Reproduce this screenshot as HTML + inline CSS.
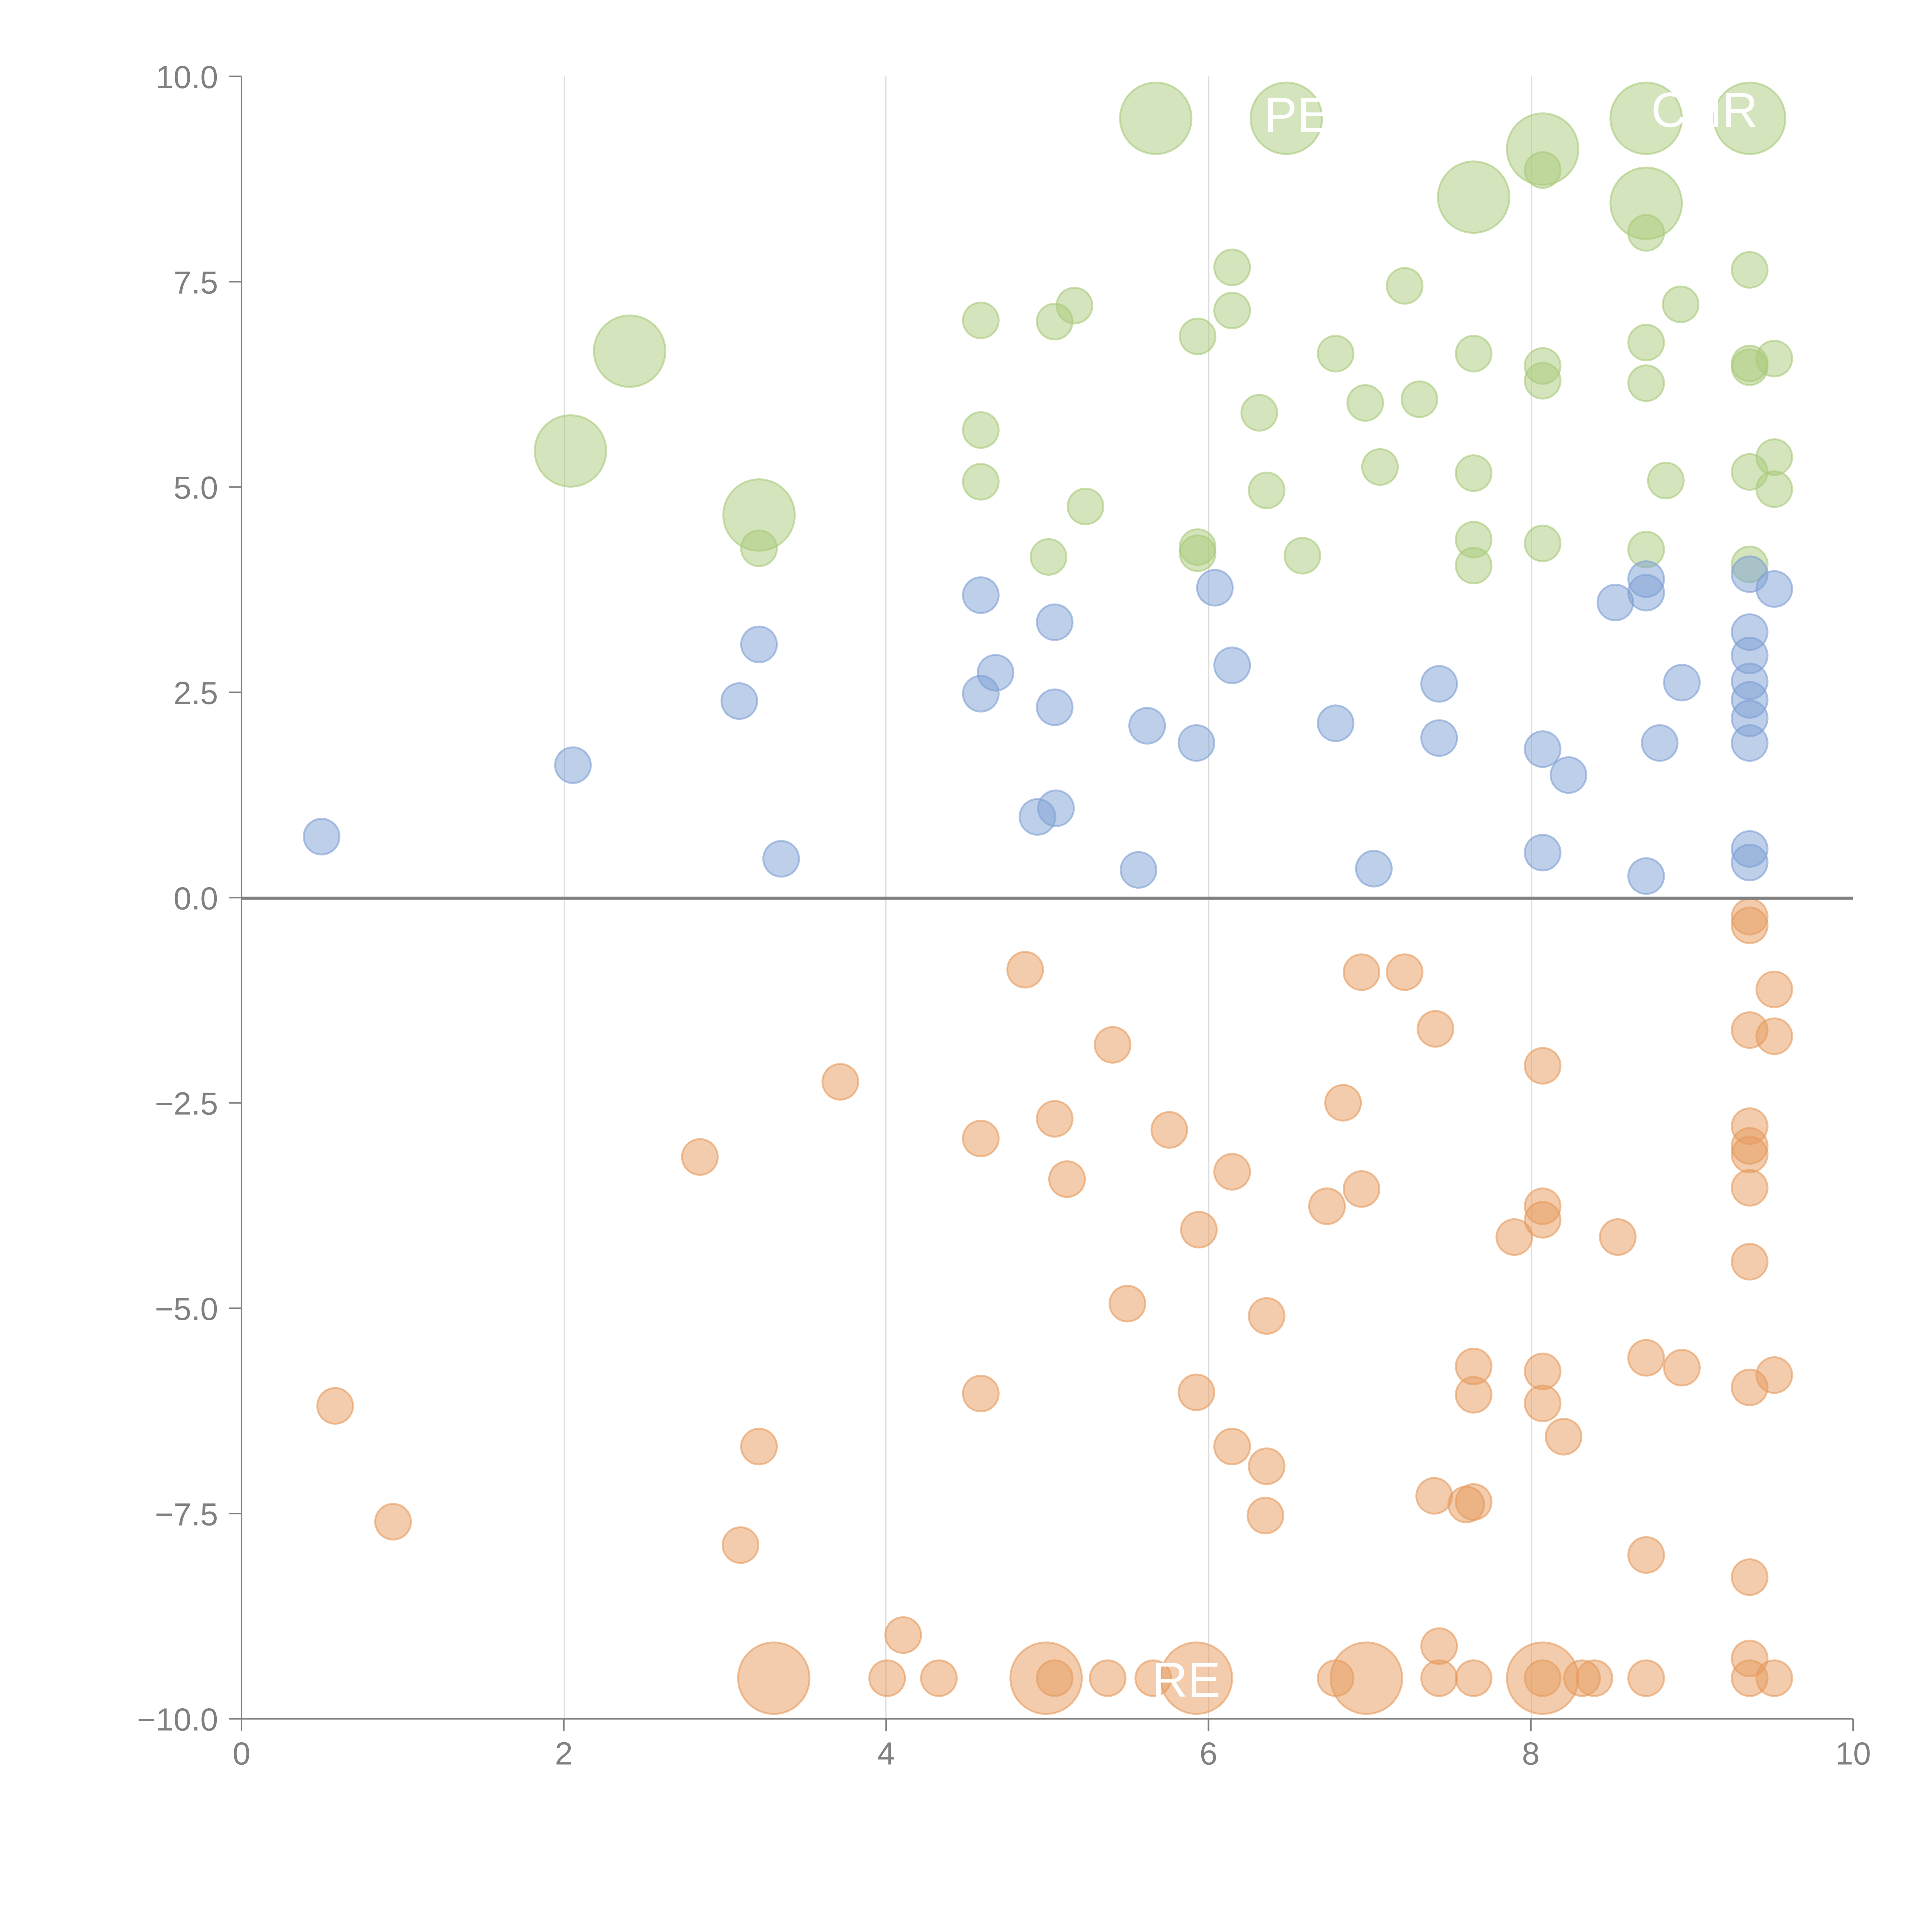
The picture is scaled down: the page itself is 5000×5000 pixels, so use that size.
<!DOCTYPE html>
<html><head><meta charset="utf-8"><style>
html,body{margin:0;padding:0;background:#fff;width:5000px;height:5000px;overflow:hidden}
svg{display:block}
text{font-family:"Liberation Sans",sans-serif}
</style></head><body>
<svg width="5000" height="5000" viewBox="0 0 1568 1568" xmlns="http://www.w3.org/2000/svg">
<g stroke="#dddddd" stroke-width="1">
<line x1="458" y1="62" x2="458" y2="1395"/><line x1="719" y1="62" x2="719" y2="1395"/>
<line x1="981" y1="62" x2="981" y2="1395"/><line x1="1243" y1="62" x2="1243" y2="1395"/>
</g>
<g id="pts"></g>
<line x1="196" y1="729" x2="1504" y2="729" stroke="#808080" stroke-width="2.5"/>
<g stroke="#808080" stroke-width="1.3">
<line x1="196" y1="62" x2="196" y2="1395"/><line x1="196" y1="1395" x2="1504" y2="1395"/>
</g>
<g id="ax" font-size="26" fill="#808080"></g>
<g fill="#fff" font-size="40">
<text x="1026" y="107">PE</text><text x="1340" y="103">CHR</text><text x="935" y="1377">RE</text>
</g>
</svg>
<script>
const NS="http://www.w3.org/2000/svg";
const g=document.getElementById('pts');
function c(x,y,r,fill,stroke){const e=document.createElementNS(NS,'circle');e.setAttribute('cx',x);e.setAttribute('cy',y);e.setAttribute('r',r);e.setAttribute('fill',fill);e.setAttribute('fill-opacity','0.5');e.setAttribute('stroke',stroke);e.setAttribute('stroke-opacity','0.6');e.setAttribute('stroke-width','1.5');g.appendChild(e);}
const G='#a9c97a',B='#7d9fd3',O='#e69a5c';
[[938,96],[1044,96],[1252,121],[1336,96],[1420,96],[1196,160],[1336,165],[511,285],[463,366],[616,418]].forEach(p=>c(p[0],p[1],29,G,G));
[[1252,138],[1336,189],[1420,219],[1364,247],[1000,217],[1140,232],[872,248],[796,260],[856,261],[1000,252],[972,273],[1084,287],[1196,287],[1336,278],[1252,297],[1252,309],[1336,311],[1420,295],[1420,298],[1440,291],[1108,327],[1152,324],[1022,335],[796,349],[1120,379],[1196,384],[1440,371],[1420,383],[1352,390],[1440,397],[796,391],[1028,398],[881,411],[616,445],[851,452],[972,444],[972,449],[1057,451],[1196,438],[1196,459],[1252,441],[1336,446],[1420,458]].forEach(p=>c(p[0],p[1],14.5,G,G));
[[261,679],[465,621],[600,569],[616,523],[634,697],[796,483],[796,563],[808,546],[856,505],[856,574],[842,663],[857,656],[931,589],[924,706],[971,603],[986,477],[1000,540],[1084,587],[1115,705],[1168,555],[1168,599],[1252,608],[1273,629],[1252,692],[1311,489],[1336,470],[1336,481],[1347,603],[1336,711],[1365,554],[1420,466],[1440,478],[1420,513],[1420,532],[1420,553],[1420,568],[1420,583],[1420,603],[1420,689],[1420,700]].forEach(p=>c(p[0],p[1],14.5,B,B));
[[272,1141],[319,1235],[568,939],[601,1254],[616,1174],[682,878],[733,1327],[720,1362],[762,1362],[796,924],[796,1131],[832,787],[856,908],[866,957],[903,848],[915,1058],[949,917],[973,998],[971,1130],[1000,951],[1000,1174],[1028,1068],[1028,1190],[1027,1230],[1090,895],[1077,979],[1105,789],[1105,965],[1140,789],[1165,835],[1229,1004],[1252,865],[1252,979],[1252,990],[1252,1113],[1252,1139],[1269,1166],[1313,1004],[1196,1109],[1196,1132],[1164,1214],[1190,1221],[1196,1219],[1168,1336],[1168,1362],[1196,1362],[1084,1362],[899,1362],[856,1362],[936,1362],[1284,1362],[1294,1362],[1252,1362],[1336,1102],[1365,1110],[1336,1262],[1336,1362],[1420,744],[1420,751],[1440,803],[1420,836],[1440,841],[1420,914],[1420,930],[1420,937],[1420,964],[1420,1024],[1420,1126],[1440,1116],[1420,1280],[1420,1346],[1420,1362],[1440,1362]].forEach(p=>c(p[0],p[1],14.5,O,O));
[[628,1362],[849,1362],[971,1362],[1109,1362],[1252,1362]].forEach(p=>c(p[0],p[1],29,O,O));
const ax=document.getElementById('ax');
function t(x,y,s,a){const e=document.createElementNS(NS,'text');e.setAttribute('x',x);e.setAttribute('y',y);e.setAttribute('text-anchor',a);e.textContent=s;ax.appendChild(e);}
function l(x1,y1,x2,y2){const e=document.createElementNS(NS,'line');e.setAttribute('x1',x1);e.setAttribute('y1',y1);e.setAttribute('x2',x2);e.setAttribute('y2',y2);e.setAttribute('stroke','#808080');e.setAttribute('stroke-width','1.3');ax.appendChild(e);}
const yl=["10.0","7.5","5.0","2.5","0.0","\u22122.5","\u22125.0","\u22127.5","\u221210.0"];
yl.forEach((s,i)=>{const y=62+i*166.625;l(186,y,196,y);t(177,y+9.5,s,'end');});
[0,2,4,6,8,10].forEach((v,i)=>{const x=196+i*261.6;l(x,1395,x,1405);t(x,1432,String(v),'middle');});
</script>
</body></html>
